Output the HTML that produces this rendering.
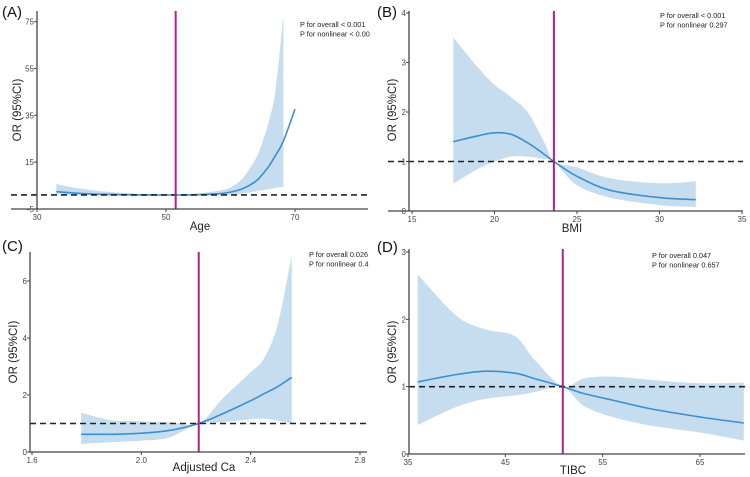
<!DOCTYPE html>
<html><head><meta charset="utf-8"><style>
html,body{margin:0;padding:0;background:#fff;}
svg{display:block;font-family:"Liberation Sans",sans-serif;}
</style></head><body>
<svg id="fig" width="750" height="477" viewBox="0 0 750 477"></svg>
<script>
// Panel A (Age)
const ageX=[33,36,40,45,50,51.5,55,58,60,62,64,65,66,67,68.2,70];
const ageOR=[2.4,1.8,1.3,1.05,1.0,1.0,1.1,1.5,2.2,3.8,7.0,10.0,13.5,18.0,24.0,37.7];
const bandAX=[33,36,40,45,50,51.5,55,58,60,62,64,65,66,67,68.2];
const ageUp=[5.7,4.0,2.6,1.6,1.1,1.0,1.6,2.8,4.2,8.5,17,24,33,46,78];
const ageLo=[1.2,1.0,0.9,0.9,0.95,1.0,0.85,0.9,1.1,1.6,2.6,3.0,3.5,4.0,4.5];
const ageXTicks=[30,50,70];const ageYTicks=[-5,15,35,55,75];
// Panel B (BMI)
const bmiX=[17.5,19,20,21,22,23,23.6,25,27,30,32.2];
const bmiOR=[1.4,1.52,1.58,1.55,1.38,1.15,1.0,0.7,0.42,0.27,0.23];
const bmiUp=[3.5,2.9,2.55,2.3,2.0,1.4,1.0,0.88,0.66,0.56,0.6];
const bmiLo=[0.55,0.85,1.0,1.1,1.1,1.05,1.0,0.52,0.27,0.12,0.08];
const bmiXTicks=[15,20,25,30,35];const bmiYTicks=[0,1,2,3,4];
// Panel C (Adjusted Ca)
const caX=[1.78,1.85,1.9,2.0,2.1,2.21,2.3,2.4,2.45,2.5,2.55];
const caOR=[0.62,0.62,0.62,0.66,0.75,1.0,1.35,1.8,2.05,2.3,2.62];
const caUp=[1.38,1.2,1.1,1.08,1.05,1.0,1.9,2.8,3.3,4.5,6.9];
const caLo=[0.28,0.32,0.35,0.4,0.5,1.0,1.05,1.15,1.17,1.1,1.0];
const caXTicks=[1.6,2.0,2.4,2.8];const caYTicks=[0,2,4,6];
// Panel D (TIBC)
const tibcX=[36,40,43,46,48,50.9,53,56,60,65,69.5];
const tibcOR=[1.07,1.18,1.23,1.2,1.12,1.0,0.9,0.8,0.67,0.55,0.46];
const tibcUp=[2.67,2.05,1.85,1.75,1.4,1.0,1.12,1.15,1.1,1.05,1.06];
const tibcLo=[0.43,0.7,0.82,0.87,0.92,1.0,0.72,0.55,0.42,0.32,0.2];
const tibcXTicks=[35,45,55,65];const tibcYTicks=[0,1,2,3];

const NS='http://www.w3.org/2000/svg';
const svg=document.getElementById('fig');
function mk(tag,attrs,parent){const e=document.createElementNS(NS,tag);for(const k in attrs)e.setAttribute(k,attrs[k]);(parent||svg).appendChild(e);return e;}
function smooth(pts){let d='M'+pts[0][0].toFixed(1)+','+pts[0][1].toFixed(1);
 for(let i=0;i<pts.length-1;i++){const p0=pts[Math.max(0,i-1)],p1=pts[i],p2=pts[i+1],p3=pts[Math.min(pts.length-1,i+2)];
 const c1=[p1[0]+(p2[0]-p0[0])/6,p1[1]+(p2[1]-p0[1])/6],c2=[p2[0]-(p3[0]-p1[0])/6,p2[1]-(p3[1]-p1[1])/6];
 d+=' C'+c1[0].toFixed(1)+','+c1[1].toFixed(1)+' '+c2[0].toFixed(1)+','+c2[1].toFixed(1)+' '+p2[0].toFixed(1)+','+p2[1].toFixed(1);}return d;}

function panel(c){
 const g=mk('g',{});
 
 
 const sx=v=>c.x0+(v-c.xmin)/(c.xmax-c.xmin)*(c.x1-c.x0);
 const sy=v=>c.y0-(v-c.ymin)/(c.ymax-c.ymin)*(c.y0-c.y1);
 const up=c.bx.map((x,i)=>[sx(x),sy(c.up[i])]);
 const lo=c.bx.map((x,i)=>[sx(x),sy(c.lo[i])]).reverse();
 const band=mk('path',{d:smooth(up)+' L'+smooth(lo).slice(1)+' Z',fill:'#c6ddf0',stroke:'none'},g);
 
 
 const line=mk('path',{d:smooth(c.xs.map((x,i)=>[sx(x),sy(c.ys[i])])),fill:'none',stroke:'#3b8fd2','stroke-width':1.6},g);
 
 
 const ref=mk('line',{x1:c.axStart,x2:c.axEnd,y1:sy(1),y2:sy(1),stroke:'#222','stroke-width':1.6,'stroke-dasharray':'6,4'},g);
 
 
 const vl=mk('line',{x1:sx(c.vx),x2:sx(c.vx),y1:c.vtop,y2:c.y0,stroke:'#b0208c','stroke-width':2},g);
 
 
 const xa=mk('line',{x1:c.axStart,x2:c.axEnd,y1:c.y0,y2:c.y0,stroke:'#444','stroke-width':1.3},g);
 
 
 const ya=mk('line',{x1:c.yax,x2:c.yax,y1:c.vtop,y2:c.y0,stroke:'#444','stroke-width':1.3},g);
 
 
 c.xt.forEach(v=>{mk('line',{x1:sx(v),x2:sx(v),y1:c.y0,y2:c.y0+3,stroke:'#444'},g);
  const t=mk('text',{x:sx(v),y:c.y0+11,'font-size':8,fill:'#444','text-anchor':'middle'},g);t.textContent=v.toFixed(c.dx);
  
  });
 c.yt.forEach(v=>{mk('line',{x1:c.yax-3,x2:c.yax,y1:sy(v),y2:sy(v),stroke:'#444'},g);
  const t=mk('text',{x:c.yax-3,y:sy(v)+3,'font-size':8,fill:'#444','text-anchor':'end'},g);t.textContent=v;
  
  });
 const xt=mk('text',{x:c.xtx,y:c.xty,'font-size':11.5,fill:'#222','text-anchor':'middle'},g);xt.textContent=c.xlab;
 
 
 const yt=mk('text',{x:0,y:0,'font-size':11.5,fill:'#222','text-anchor':'middle',transform:'translate('+c.ytx+','+c.yty+') rotate(-90)'},g);yt.textContent='OR (95%CI)';
 
 
 const pl=mk('text',{x:c.plx,y:c.ply,'font-size':15,fill:'#111'},g);pl.textContent='('+c.id+')';
 
 
 c.ann.forEach((s,i)=>{const a=mk('text',{x:c.anx,y:c.any+i*9.5,'font-size':7.3,fill:'#222'},g);a.textContent=s;
  
  });
}
panel({id:'A',xmin:30,xmax:70,x0:37,x1:295,ymin:-5,ymax:75,y0:209,y1:21.7,axStart:11,axEnd:368,yax:37,vtop:11,
 xs:ageX,ys:ageOR,bx:bandAX,up:ageUp,lo:ageLo,vx:51.5,xt:ageXTicks,yt:ageYTicks,dx:0,xlab:'Age',xtx:200,xty:230,ytx:21,yty:110,plx:2,ply:17,
 ann:['P for overall < 0.001','P for nonlinear < 0.00'],anx:300,any:27});
panel({id:'B',xmin:15,xmax:35,x0:412,x1:742,ymin:0,ymax:4,y0:211,y1:13,axStart:388,axEnd:743,yax:409,vtop:11,
 xs:bmiX,ys:bmiOR,bx:bmiX,up:bmiUp,lo:bmiLo,vx:23.6,xt:bmiXTicks,yt:bmiYTicks,dx:0,xlab:'BMI',xtx:572,xty:232,ytx:396,yty:110,plx:377,ply:17,
 ann:['P for overall < 0.001','P for nonlinear 0.297'],anx:660,any:18});
panel({id:'C',xmin:1.6,xmax:2.8,x0:32,x1:360,ymin:0,ymax:6,y0:452,y1:281,axStart:30,axEnd:367,yax:30,vtop:252,
 xs:caX,ys:caOR,bx:caX,up:caUp,lo:caLo,vx:2.21,xt:caXTicks,yt:caYTicks,dx:1,xlab:'Adjusted Ca',xtx:204,xty:471,ytx:17,yty:352,plx:2,ply:251,
 ann:['P for overall 0.026','P for nonlinear 0.4'],anx:309,any:257});
panel({id:'D',xmin:35,xmax:65,x0:408,x1:700,ymin:0,ymax:3,y0:454,y1:252,axStart:409,axEnd:745,yax:409,vtop:249,
 xs:tibcX,ys:tibcOR,bx:tibcX,up:tibcUp,lo:tibcLo,vx:50.9,xt:tibcXTicks,yt:tibcYTicks,dx:0,xlab:'TIBC',xtx:573,xty:474,ytx:396,yty:352,plx:377,ply:252,
 ann:['P for overall 0.047','P for nonlinear 0.657'],anx:652,any:258});
</script>
</body></html>
